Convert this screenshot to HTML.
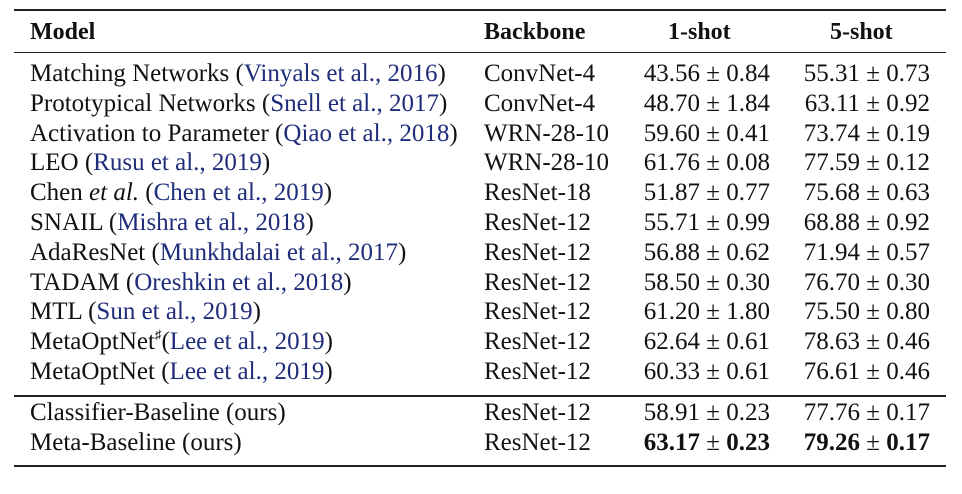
<!DOCTYPE html>
<html><head><meta charset="utf-8"><style>
body{margin:0;width:962px;height:494px;background:#fff;position:relative;overflow:hidden;font-family:"Liberation Serif",serif;font-size:25px;color:#111}
.rule{position:absolute;left:14px;width:932px;background:#222}
.c{position:absolute;white-space:nowrap;line-height:30px}
.m{left:30px}.b{left:484px}.s1{right:192px;text-align:right}.s5{right:32px;text-align:right}
.h{font-weight:bold;font-size:24px}
a{color:#1f2d7a;text-decoration:none}
sup{font-size:13px;line-height:0;vertical-align:0;position:relative;top:-10px}
</style></head><body>
<div class="rule" style="top:9px;height:2px"></div>
<div class="rule" style="top:52px;height:1px"></div>
<div class="rule" style="top:395px;height:1.5px"></div>
<div class="rule" style="top:465px;height:2px"></div>
<div id="t"></div>
<script>
const header=['Model','Backbone','1-shot','5-shot'];
const models=['Matching Networks (<a>Vinyals et al., 2016</a>)','Prototypical Networks (<a>Snell et al., 2017</a>)','Activation to Parameter (<a>Qiao et al., 2018</a>)','LEO (<a>Rusu et al., 2019</a>)','Chen <i>et al.</i> (<a>Chen et al., 2019</a>)','SNAIL (<a>Mishra et al., 2018</a>)','AdaResNet (<a>Munkhdalai et al., 2017</a>)','TADAM (<a>Oreshkin et al., 2018</a>)','MTL (<a>Sun et al., 2019</a>)','MetaOptNet<sup>♯</sup>(<a>Lee et al., 2019</a>)','MetaOptNet (<a>Lee et al., 2019</a>)','Classifier-Baseline (ours)','Meta-Baseline (ours)'];
const backbones=['ConvNet-4','ConvNet-4','WRN-28-10','WRN-28-10','ResNet-18','ResNet-12','ResNet-12','ResNet-12','ResNet-12','ResNet-12','ResNet-12','ResNet-12','ResNet-12'];
const oneShot=['43.56 ± 0.84','48.70 ± 1.84','59.60 ± 0.41','61.76 ± 0.08','51.87 ± 0.77','55.71 ± 0.99','56.88 ± 0.62','58.50 ± 0.30','61.20 ± 1.80','62.64 ± 0.61','60.33 ± 0.61','58.91 ± 0.23','<b>63.17</b> ± <b>0.23</b>'];
const fiveShot=['55.31 ± 0.73','63.11 ± 0.92','73.74 ± 0.19','77.59 ± 0.12','75.68 ± 0.63','68.88 ± 0.92','71.94 ± 0.57','76.70 ± 0.30','75.50 ± 0.80','78.63 ± 0.46','76.61 ± 0.46','77.76 ± 0.17','<b>79.26</b> ± <b>0.17</b>'];
const t=document.getElementById('t');
function cell(cls,top,html,name){const d=document.createElement('div');d.className='c '+cls;d.style.top=top+'px';d.innerHTML=html;


t.appendChild(d);}
cell('m h',17,header[0],'header-model');cell('b h',17,header[1],'header-backbone');
cell('h',17,header[2],'header-1-shot');t.lastChild.style.left='668px';
cell('h',17,header[3],'header-5-shot');t.lastChild.style.left='830px';
models.forEach((m,i)=>{const top=i<11?59+i*29.8:398+(i-11)*30;
cell('m',top,m,'model-name');cell('b',top,backbones[i],'backbone');cell('s1',top,oneShot[i],'one-shot-acc');cell('s5',top,fiveShot[i],'five-shot-acc');});
</script>
</body></html>
